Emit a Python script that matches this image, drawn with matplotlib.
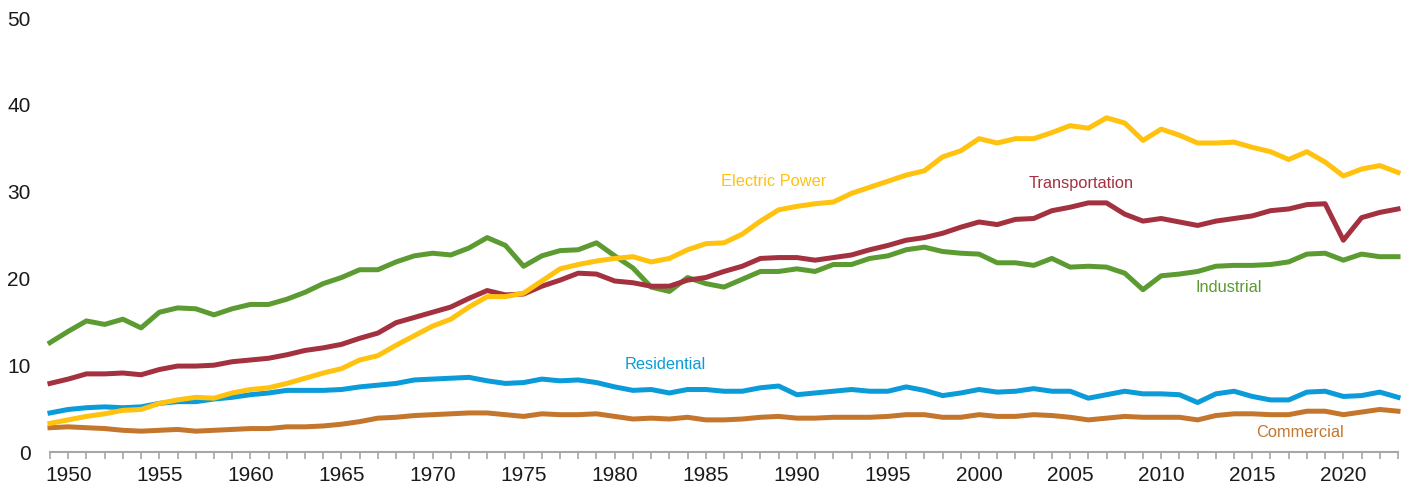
import numpy as np
import matplotlib.pyplot as plt

# Data
years = np.arange(1949, 2024)

industrial = [12.6, 13.9, 15.1, 14.7, 15.3, 14.3, 16.1, 16.6, 16.5, 15.8,
              16.5, 17.0, 17.0, 17.6, 18.4, 19.4, 20.1, 21.0, 21.0, 21.9,
              22.6, 22.9, 22.7, 23.5, 24.7, 23.8, 21.4, 22.6, 23.2, 23.3,
              24.1, 22.6, 21.2, 19.0, 18.5, 20.1, 19.4, 19.0, 19.9, 20.8,
              20.8, 21.1, 20.8, 21.6, 21.6, 22.3, 22.6, 23.3, 23.6, 23.1,
              22.9, 22.8, 21.8, 21.8, 21.5, 22.3, 21.3, 21.4, 21.3, 20.6,
              18.7, 20.3, 20.5, 20.8, 21.4, 21.5, 21.5, 21.6, 21.9, 22.8,
              22.9, 22.1, 22.8, 22.5, 22.5]

transportation = [7.9, 8.4, 9.0, 9.0, 9.1, 8.9, 9.5, 9.9, 9.9, 10.0,
                  10.4, 10.6, 10.8, 11.2, 11.7, 12.0, 12.4, 13.1, 13.7, 14.9,
                  15.5, 16.1, 16.7, 17.7, 18.6, 18.1, 18.2, 19.1, 19.8, 20.6,
                  20.5, 19.7, 19.5, 19.1, 19.1, 19.8, 20.1, 20.8, 21.4, 22.3,
                  22.4, 22.4, 22.1, 22.4, 22.7, 23.3, 23.8, 24.4, 24.7, 25.2,
                  25.9, 26.5, 26.2, 26.8, 26.9, 27.8, 28.2, 28.7, 28.7, 27.4,
                  26.6, 26.9, 26.5, 26.1, 26.6, 26.9, 27.2, 27.8, 28.0, 28.5,
                  28.6, 24.4, 27.0, 27.6, 28.0]

electric_power = [3.3, 3.7, 4.1, 4.4, 4.8, 4.9, 5.6, 6.0, 6.3, 6.2,
                  6.8, 7.2, 7.4, 7.9, 8.5, 9.1, 9.6, 10.6, 11.1, 12.3,
                  13.4, 14.5, 15.3, 16.7, 17.9, 17.9, 18.3, 19.7, 21.1, 21.6,
                  22.0, 22.3, 22.5, 21.9, 22.3, 23.3, 24.0, 24.1, 25.1, 26.6,
                  27.9, 28.3, 28.6, 28.8, 29.8, 30.5, 31.2, 31.9, 32.4, 34.0,
                  34.7, 36.1, 35.6, 36.1, 36.1, 36.8, 37.6, 37.3, 38.5, 37.9,
                  35.9, 37.2, 36.5, 35.6, 35.6, 35.7, 35.1, 34.6, 33.7, 34.6,
                  33.4, 31.8, 32.6, 33.0, 32.2]

residential = [4.5, 4.9, 5.1, 5.2, 5.1, 5.2, 5.6, 5.8, 5.8, 6.1,
               6.3, 6.6, 6.8, 7.1, 7.1, 7.1, 7.2, 7.5, 7.7, 7.9,
               8.3, 8.4, 8.5, 8.6, 8.2, 7.9, 8.0, 8.4, 8.2, 8.3,
               8.0, 7.5, 7.1, 7.2, 6.8, 7.2, 7.2, 7.0, 7.0, 7.4,
               7.6, 6.6, 6.8, 7.0, 7.2, 7.0, 7.0, 7.5, 7.1, 6.5,
               6.8, 7.2, 6.9, 7.0, 7.3, 7.0, 7.0, 6.2, 6.6, 7.0,
               6.7, 6.7, 6.6, 5.7, 6.7, 7.0, 6.4, 6.0, 6.0, 6.9,
               7.0, 6.4, 6.5, 6.9, 6.3]

commercial = [2.8, 2.9, 2.8, 2.7, 2.5, 2.4, 2.5, 2.6, 2.4, 2.5,
              2.6, 2.7, 2.7, 2.9, 2.9, 3.0, 3.2, 3.5, 3.9, 4.0,
              4.2, 4.3, 4.4, 4.5, 4.5, 4.3, 4.1, 4.4, 4.3, 4.3,
              4.4, 4.1, 3.8, 3.9, 3.8, 4.0, 3.7, 3.7, 3.8, 4.0,
              4.1, 3.9, 3.9, 4.0, 4.0, 4.0, 4.1, 4.3, 4.3, 4.0,
              4.0, 4.3, 4.1, 4.1, 4.3, 4.2, 4.0, 3.7, 3.9, 4.1,
              4.0, 4.0, 4.0, 3.7, 4.2, 4.4, 4.4, 4.3, 4.3, 4.7,
              4.7, 4.3, 4.6, 4.9, 4.7]

names = ["Commercial", "Residential", "Industrial", "Transportation", "Electric Power"]
colors = ["#C4762D", "#0A9BD8", "#5B9B32", "#A3313F", "#FFC20E"]
# label anchor (year, value) for the direct labels
label_x = [2017.6, 1982.8, 2013.7, 2005.6, 1988.7]
label_y = [2.3, 10.1, 19.0, 30.9, 31.2]

plt.rcParams['font.family'] = ['Liberation Sans', 'DejaVu Sans']

fig = plt.figure(figsize=(14.02, 4.95), dpi=100)
ax = fig.add_axes([50 / 1402, 1 - 452 / 495, 1348 / 1402, 434 / 495])

for vals, color in zip([commercial, residential, industrial, transportation, electric_power], colors):
    ax.plot(years, vals, color=color, linewidth=3.6, clip_on=False)

for name, color, lx, ly in zip(names, colors, label_x, label_y):
    ax.text(lx, ly, name, color=color, fontsize=11.8, ha='center', va='center')

ax.set_xlim(1949, 2023)
ax.set_ylim(0, 50)
ax.set_yticks(np.arange(0, 51, 10))
ax.set_xticks(np.arange(1950, 2021, 5))
ax.set_xticks(years, minor=True)

for s in ['top', 'right', 'left']:
    ax.spines[s].set_visible(False)
ax.spines['bottom'].set_color('#A6A6A6')
ax.spines['bottom'].set_linewidth(1.5)

ax.tick_params(axis='y', length=0, pad=14, labelsize=15, labelcolor='#1a1a1a')
ax.tick_params(axis='x', which='both', length=5, width=1.2, color='#A6A6A6',
               direction='out', labelsize=15, labelcolor='#1a1a1a', pad=5)

fig.savefig("out.png", dpi=100)
